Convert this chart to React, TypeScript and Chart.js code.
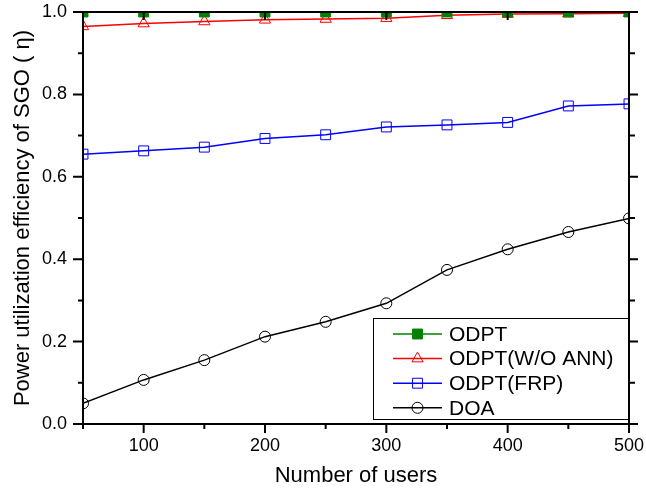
import React, { useEffect, useRef } from 'react';
import { Chart, registerables } from 'chart.js';

Chart.register(...registerables);

// ---- data ----
const users = [50, 100, 150, 200, 250, 300, 350, 400, 450, 500];
const odpt = [1.0, 1.0, 1.0, 1.0, 1.0, 1.0, 1.0, 1.0, 1.0, 1.0];
const odptWoAnn = [0.965, 0.972, 0.977, 0.981, 0.983, 0.985, 0.992, 0.995, 0.996, 0.997];
const odptFrp = [0.655, 0.663, 0.672, 0.693, 0.702, 0.721, 0.726, 0.732, 0.772, 0.777];
const doa = [0.05, 0.107, 0.155, 0.212, 0.248, 0.293, 0.374, 0.424, 0.466, 0.499];
const seriesLabels = ['ODPT', 'ODPT(W/O ANN)', 'ODPT(FRP)', 'DOA'];
const xTitle = 'Number of users';
const yTitle = 'Power utilization efficiency of SGO ( \u03b7)';

const FONT = "'Liberation Sans', Arial, sans-serif";

function drawMarker(ctx: CanvasRenderingContext2D, style: string, x: number, y: number, r: number, color: string, fill: boolean) {
  ctx.save();
  ctx.strokeStyle = color;
  ctx.fillStyle = color;
  ctx.lineWidth = 1;
  ctx.beginPath();
  if (style === 'rect') {
    const h = Math.SQRT1_2 * r;
    ctx.rect(x - h, y - h, 2 * h, 2 * h);
  } else if (style === 'triangle') {
    ctx.moveTo(x, y - r);
    ctx.lineTo(x + r * Math.sin((2 * Math.PI) / 3), y - r * Math.cos((2 * Math.PI) / 3));
    ctx.lineTo(x + r * Math.sin((4 * Math.PI) / 3), y - r * Math.cos((4 * Math.PI) / 3));
    ctx.closePath();
  } else {
    ctx.arc(x, y, r, 0, Math.PI * 2);
  }
  if (fill) ctx.fill();
  ctx.stroke();
  ctx.restore();
}

const framePlugin = {
  id: 'frameTicks',
  afterDatasetsDraw(chart: any) {
    const { ctx, chartArea } = chart;
    const { left, right, top, bottom } = chartArea;
    const xs = chart.scales.x;
    const ys = chart.scales.y;
    ctx.save();
    ctx.strokeStyle = '#000';
    ctx.lineWidth = 2;
    ctx.lineCap = 'butt';
    ctx.strokeRect(left, top, right - left, bottom - top);
    ctx.beginPath();
    ys.ticks.forEach((t: any) => {
      const major = Math.round(t.value * 10) % 2 === 0;
      const p = ys.getPixelForValue(t.value);
      ctx.moveTo(left - (major ? 10 : 5), p);
      ctx.lineTo(left, p);
      ctx.moveTo(right, p);
      ctx.lineTo(right + (major ? 9 : 6), p);
    });
    xs.ticks.forEach((t: any) => {
      const major = Math.round(t.value) % 100 === 0;
      const p = xs.getPixelForValue(t.value);
      ctx.moveTo(p, bottom);
      ctx.lineTo(p, bottom + (major ? 9 : 5));
      if (major) {
        ctx.moveTo(p, top);
        ctx.lineTo(p, top + 8);
      }
    });
    ctx.stroke();
    ctx.restore();
  },
  afterDraw(chart: any) {
    const { ctx } = chart;
    const bx = 373, by = 318, bw = 256, bh = 102;
    ctx.save();
    ctx.fillStyle = '#fff';
    ctx.fillRect(bx, by, bw, bh);
    ctx.strokeStyle = '#000';
    ctx.lineWidth = 1;
    ctx.strokeRect(bx + 0.5, by + 0.5, bw - 1, bh - 1);
    const rowH = 24.6;
    chart.data.datasets.forEach((ds: any, i: number) => {
      const cy = by + 16 + i * rowH;
      ctx.strokeStyle = ds.borderColor;
      ctx.lineWidth = 1.5;
      ctx.beginPath();
      ctx.moveTo(393, cy);
      ctx.lineTo(442, cy);
      ctx.stroke();
      drawMarker(ctx, ds.pointStyle, 417.5, cy, ds.pointRadius, ds.borderColor, ds.pointBackgroundColor !== 'rgba(0,0,0,0)');
      ctx.fillStyle = '#000';
      ctx.font = `21px ${FONT}`;
      ctx.textAlign = 'left';
      ctx.textBaseline = 'middle';
      ctx.fillText(ds.label, 449, cy + 1);
    });
    ctx.restore();
  },
};

export default function App() {
  const ref = useRef<HTMLCanvasElement | null>(null);

  useEffect(() => {
    if (!ref.current) return;
    const mk = (vals: number[]) => users.map((u, i) => ({ x: u, y: vals[i] }));
    const chart = new Chart(ref.current, {
      type: 'line',
      data: {
        datasets: [
          {
            label: seriesLabels[0],
            data: mk(odpt),
            borderColor: '#008000',
            backgroundColor: '#008000',
            pointBackgroundColor: '#008000',
            pointBorderColor: '#008000',
            pointStyle: 'rect',
            pointRadius: 7,
            pointBorderWidth: 1,
            borderWidth: 1.5,
          },
          {
            label: seriesLabels[1],
            data: mk(odptWoAnn),
            borderColor: '#FF0000',
            backgroundColor: 'rgba(0,0,0,0)',
            pointBackgroundColor: 'rgba(0,0,0,0)',
            pointBorderColor: '#FF0000',
            pointStyle: 'triangle',
            pointRadius: 6.5,
            pointBorderWidth: 1,
            borderWidth: 1.5,
          },
          {
            label: seriesLabels[2],
            data: mk(odptFrp),
            borderColor: '#0000FF',
            backgroundColor: 'rgba(0,0,0,0)',
            pointBackgroundColor: 'rgba(0,0,0,0)',
            pointBorderColor: '#0000FF',
            pointStyle: 'rect',
            pointRadius: 7,
            pointBorderWidth: 1,
            borderWidth: 1.5,
          },
          {
            label: seriesLabels[3],
            data: mk(doa),
            borderColor: '#000000',
            backgroundColor: 'rgba(0,0,0,0)',
            pointBackgroundColor: 'rgba(0,0,0,0)',
            pointBorderColor: '#000000',
            pointStyle: 'circle',
            pointRadius: 5.5,
            pointBorderWidth: 1,
            borderWidth: 1.5,
          },
        ],
      },
      options: {
        responsive: false,
        animation: false,
        devicePixelRatio: 1,
        layout: { padding: { top: 12, right: 17, left: 0, bottom: 0 } },
        elements: { line: { tension: 0 } },
        plugins: {
          legend: { display: false },
          tooltip: { enabled: false },
        },
        scales: {
          x: {
            type: 'linear',
            min: 50,
            max: 500,
            afterFit: (s: any) => {
              s.height = 69;
              s.paddingLeft = 0;
              s.paddingRight = 0;
            },
            grid: { display: false, drawTicks: false, tickLength: 0 },
            border: { display: false },
            ticks: {
              stepSize: 50,
              autoSkip: false,
              maxRotation: 0,
              padding: 11,
              color: '#000',
              font: { size: 18, family: FONT },
              callback: (v: any) => (Math.round(v) % 100 === 0 ? String(v) : ''),
            },
            title: {
              display: true,
              text: xTitle,
              color: '#000',
              font: { size: 22, family: FONT },
              padding: { top: 0, bottom: 4 },
            },
          },
          y: {
            type: 'linear',
            min: 0,
            max: 1,
            afterFit: (s: any) => {
              s.width = 83;
              s.paddingTop = 0;
              s.paddingBottom = 0;
            },
            grid: { display: false, drawTicks: false, tickLength: 0 },
            border: { display: false },
            ticks: {
              stepSize: 0.1,
              autoSkip: false,
              padding: 16,
              color: '#000',
              font: { size: 18, family: FONT },
              callback: (v: any) => (Math.round(v * 10) % 2 === 0 ? Number(v).toFixed(1) : ''),
            },
            title: {
              display: true,
              text: yTitle,
              color: '#000',
              font: { size: 22, family: FONT },
              padding: { top: 10, bottom: 0 },
            },
          },
        },
      },
      plugins: [framePlugin],
    });
    return () => chart.destroy();
  }, []);

  return (
    <div style={{ position: 'absolute', left: 0, top: 0, width: 646, height: 493, background: '#fff' }}>
      <canvas ref={ref} width={646} height={493} />
    </div>
  );
}
